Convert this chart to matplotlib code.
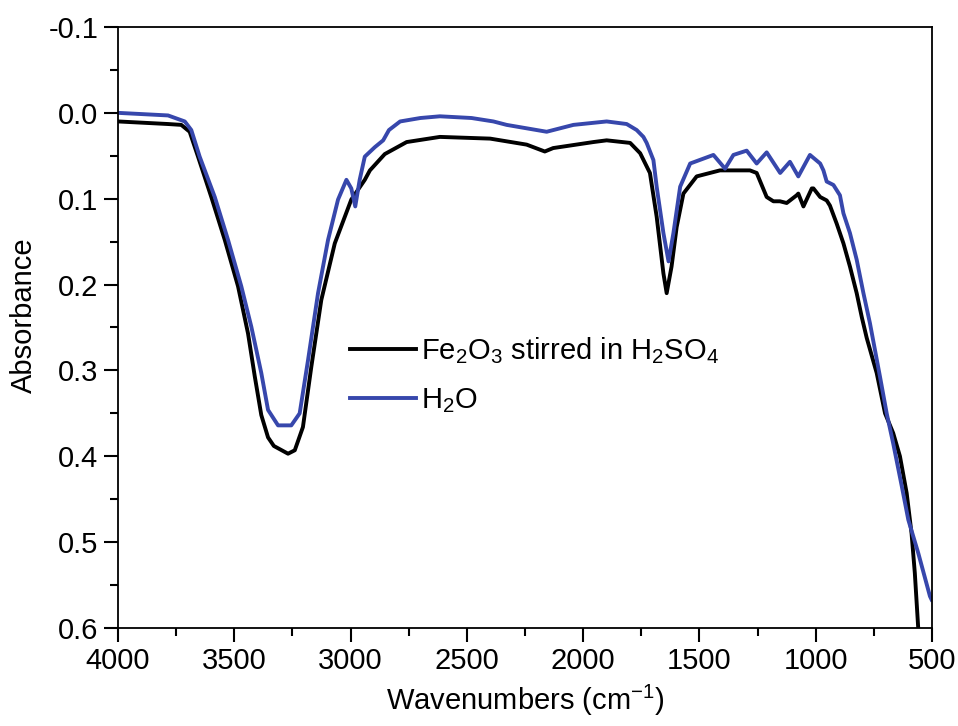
import numpy as np
import matplotlib.pyplot as plt

plt.rcParams['font.family'] = ['Liberation Sans', 'DejaVu Sans']
plt.rcParams['mathtext.default'] = 'regular'

# wavenumber (cm-1), absorbance
wn_fe = [4000, 3785, 3728, 3692, 3656, 3599, 3541, 3484, 3441, 3412, 3384, 3355, 3330,
         3269, 3240, 3205, 3169, 3126, 3068, 2997, 2939, 2917, 2853, 2759, 2616,
         2400, 2243, 2165, 2129, 1956, 1899, 1798, 1755, 1713, 1684, 1655, 1641,
         1620, 1598, 1569, 1512, 1412, 1283, 1254, 1211, 1182, 1154, 1125, 1082,
         1075, 1053, 1017, 1010, 981, 953, 939, 910, 881, 853, 824, 802, 781, 738,
         702, 667, 638, 609, 588, 574, 559, 552]
ab_fe = [0.010, 0.013, 0.014, 0.022, 0.051, 0.098, 0.148, 0.202, 0.257, 0.307, 0.352, 0.378, 0.388,
         0.397, 0.393, 0.366, 0.296, 0.218, 0.152, 0.101, 0.078, 0.067, 0.048, 0.034, 0.028,
         0.030, 0.037, 0.045, 0.041, 0.034, 0.032, 0.035, 0.047, 0.070, 0.121, 0.187, 0.210,
         0.179, 0.133, 0.094, 0.074, 0.067, 0.067, 0.070, 0.098, 0.103, 0.103, 0.105, 0.096,
         0.094, 0.109, 0.088, 0.088, 0.098, 0.102, 0.108, 0.129, 0.152, 0.179, 0.210, 0.238,
         0.262, 0.303, 0.350, 0.373, 0.400, 0.443, 0.490, 0.536, 0.602, 0.640]

wn_h2o = [4000, 3785, 3713, 3685, 3649, 3584, 3527, 3470, 3427, 3384, 3355, 3312,
          3255, 3219, 3183, 3140, 3097, 3054, 3018, 2997, 2980, 2961, 2939, 2896,
          2860, 2835, 2787, 2700, 2616, 2480, 2386, 2329, 2157, 2042, 1899, 1813,
          1770, 1741, 1727, 1698, 1684, 1655, 1633, 1612, 1583, 1540, 1440, 1390,
          1354, 1297, 1254, 1211, 1153, 1111, 1075, 1025, 981, 967, 953, 924, 896,
          881, 853, 824, 795, 767, 724, 695, 667, 630, 602, 559, 509, 502]
ab_h2o = [0.000, 0.003, 0.010, 0.020, 0.051, 0.098, 0.148, 0.202, 0.249, 0.303, 0.346, 0.364,
          0.364, 0.350, 0.288, 0.210, 0.148, 0.101, 0.078, 0.088, 0.109, 0.078, 0.051, 0.040,
          0.032, 0.020, 0.010, 0.006, 0.004, 0.006, 0.010, 0.014, 0.022, 0.014, 0.010, 0.013,
          0.020, 0.028, 0.035, 0.055, 0.086, 0.140, 0.173, 0.140, 0.086, 0.059, 0.049, 0.065,
          0.049, 0.044, 0.059, 0.046, 0.070, 0.057, 0.074, 0.049, 0.059, 0.067, 0.080, 0.084,
          0.096, 0.117, 0.140, 0.171, 0.210, 0.245, 0.307, 0.350, 0.385, 0.435, 0.474, 0.513,
          0.563, 0.567]

fig = plt.figure(figsize=(9.58, 7.26), dpi=100)
ax = fig.add_axes([0.1232, 0.135, 0.8497, 0.8278])

ax.plot(wn_fe, ab_fe, color='black', lw=2.8, label='Fe$_2$O$_3$ stirred in H$_2$SO$_4$')
ax.plot(wn_h2o, ab_h2o, color='#3747ac', lw=2.8, label='H$_2$O')

ax.set_xlim(4000, 500)
ax.set_ylim(0.6, -0.1)
ax.set_xticks(np.arange(4000, 499, -500))
ax.set_xticks(np.arange(3750, 500, -500), minor=True)
ax.set_yticks(np.arange(-0.1, 0.61, 0.1))
ax.set_yticks(np.arange(-0.05, 0.6, 0.1), minor=True)
ax.set_yticklabels(['-0.1', '0.0', '0.1', '0.2', '0.3', '0.4', '0.5', '0.6'])

ax.tick_params(which='major', direction='out', length=10, width=1.5, labelsize=21, pad=4)
ax.tick_params(which='minor', direction='out', length=6, width=1.5)
for s in ax.spines.values():
    s.set_linewidth(1.3)

ax.set_xlabel('Wavenumbers (cm$^{-1}$)', fontsize=21, labelpad=5)
ax.set_ylabel('Absorbance', fontsize=21)
ax.yaxis.set_label_coords(-0.098, 0.52)

ax.legend(loc='center left', bbox_to_anchor=(0.285, 0.421), frameon=False,
          fontsize=21, handlelength=2.25, handletextpad=0.2, labelspacing=0.7,
          borderpad=0, borderaxespad=0)

fig.savefig('out.png', dpi=100)
